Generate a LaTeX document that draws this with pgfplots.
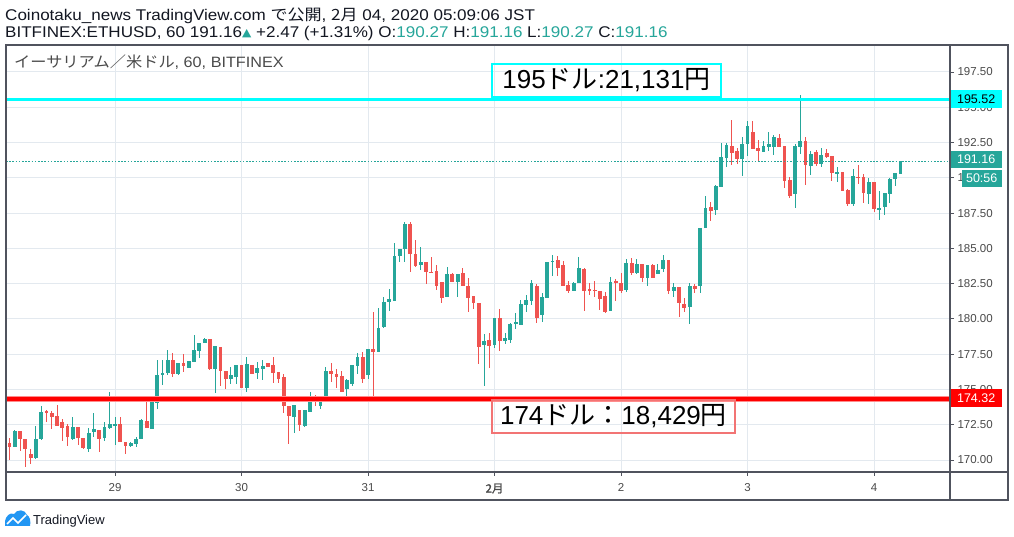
\documentclass[border=0pt]{standalone}
\usepackage{fontspec}
\setmainfont{Liberation Sans}
\newfontfamily\jp{Noto Sans CJK JP}
\newfontfamily\jpb[FakeBold=1.5]{Noto Sans CJK JP}
\newfontfamily\dv{DejaVu Sans}
\usepackage{pgfplots}
\pgfplotsset{compat=1.18}
\usepackage{pgfplotstable}
\definecolor{tvg}{HTML}{26A69A}
\definecolor{tvr}{HTML}{EF5350}
\definecolor{gridc}{HTML}{E3E9EF}
\definecolor{axc}{HTML}{50535E}
\definecolor{txt}{HTML}{4A4A4A}
\definecolor{cyn}{HTML}{00FFFF}
\definecolor{redl}{HTML}{FF0000}
\definecolor{redbox}{HTML}{F27474}
\definecolor{tvblue}{HTML}{2196F3}
\definecolor{ink}{HTML}{131722}

\pgfplotstableread{
n O H L C
1 171.18 171.54 170.00 170.95
2 170.95 172.10 170.90 172.06
3 172.06 172.06 170.66 171.47
4 171.47 171.47 169.53 170.76
5 170.43 170.78 169.72 170.17
6 170.17 172.39 170.10 171.49
7 171.49 173.83 171.45 173.40
8 173.45 173.55 172.72 173.36
9 173.30 173.45 172.22 173.07
10 173.12 173.90 172.40 172.44
11 172.70 172.93 171.37 172.30
12 172.40 172.55 171.02 171.60
13 171.49 173.03 171.40 172.32
14 172.32 172.32 171.04 171.54
15 171.54 171.54 170.78 170.88
16 170.81 172.29 170.59 171.92
17 172.00 173.33 171.60 172.20
18 172.13 172.13 170.57 171.49
19 171.58 172.70 171.35 172.32
20 172.30 174.82 172.20 172.53
21 172.40 173.03 171.06 172.53
22 172.53 173.03 171.30 171.30
23 171.30 171.30 170.43 171.02
24 171.02 171.30 170.90 171.18
25 171.12 171.60 170.95 171.47
26 171.49 172.90 171.49 172.84
27 172.77 174.30 172.30 172.30
28 172.22 174.49 172.20 174.09
29 174.07 177.09 173.64 176.03
30 176.03 177.09 175.32 176.19
31 176.14 177.80 176.02 177.09
32 177.09 177.59 175.91 176.07
33 176.10 176.90 176.02 176.90
34 176.90 177.49 176.26 176.69
35 176.55 177.02 176.55 177.02
36 176.97 178.86 176.97 177.80
37 177.75 178.27 177.25 178.27
38 178.32 178.62 178.32 178.58
39 178.58 178.58 176.38 176.45
40 176.45 178.08 174.73 178.08
41 177.99 177.99 175.27 176.33
42 176.33 176.33 175.03 175.72
43 175.72 176.62 175.36 176.02
44 175.91 176.73 175.36 176.73
45 176.73 176.73 175.08 175.13
46 175.13 177.28 174.84 176.78
47 176.73 176.73 176.07 176.07
48 176.19 176.97 175.72 176.50
49 176.45 177.09 175.67 176.69
50 176.85 176.85 176.62 176.62
51 176.73 177.28 175.48 176.14
52 176.26 176.26 175.44 175.72
53 175.86 176.10 173.31 173.83
54 173.83 173.83 171.14 173.14
55 173.07 173.90 171.89 173.90
56 173.55 173.55 172.06 172.48
57 172.41 173.55 172.32 173.55
58 173.43 174.84 173.38 174.49
59 174.49 174.61 173.85 174.20
60 173.85 174.49 173.62 174.20
61 174.20 176.62 174.20 176.31
62 176.31 176.85 175.55 176.12
63 176.10 176.45 175.13 175.91
64 175.95 176.31 174.84 174.84
65 175.03 175.74 174.49 175.67
66 175.39 176.73 175.27 176.73
67 176.69 177.61 176.07 177.30
68 177.30 177.68 175.44 175.74
69 176.02 177.87 175.74 177.87
70 177.87 180.51 174.49 177.68
71 177.68 180.75 177.68 179.36
72 179.43 181.58 179.38 181.17
73 181.17 182.12 180.56 181.39
74 181.27 185.38 181.27 184.48
75 184.48 184.96 184.01 184.96
76 184.96 186.85 184.06 186.73
77 186.73 186.89 183.30 184.60
78 184.60 185.59 183.66 183.77
79 183.82 185.12 183.47 184.06
80 184.06 184.06 182.47 183.30
81 183.33 184.41 183.28 183.30
82 183.40 183.82 182.05 182.36
83 182.64 182.64 181.10 181.51
84 181.58 183.70 181.58 183.16
85 183.16 183.23 182.59 182.59
86 182.59 183.16 181.58 183.16
87 183.23 183.63 182.33 182.36
88 182.36 182.90 180.51 181.45
89 181.62 181.62 180.70 181.11
90 181.15 181.15 176.81 178.03
91 178.15 178.91 175.27 178.44
92 178.51 178.98 176.55 178.11
93 178.15 180.04 177.92 180.04
94 180.04 180.70 177.75 178.46
95 178.46 178.98 178.22 178.67
96 178.51 179.69 178.32 179.64
97 179.64 180.44 179.29 179.78
98 179.57 181.34 179.57 181.06
99 180.99 181.69 180.51 181.34
100 181.29 182.76 180.99 182.52
101 182.36 182.47 179.69 180.09
102 180.28 181.81 179.76 181.53
103 181.51 184.01 181.51 184.01
104 184.01 184.53 183.07 184.13
105 184.18 184.46 183.07 183.63
106 183.82 184.13 182.36 182.36
107 182.41 182.71 181.86 182.00
108 182.00 182.64 182.00 182.57
109 182.52 184.41 182.52 183.59
110 183.54 183.59 180.59 182.00
111 182.10 182.57 181.69 182.00
112 182.05 182.69 181.58 181.98
113 181.98 181.98 180.63 181.41
114 181.62 181.93 180.44 180.51
115 180.58 182.99 180.58 182.59
116 182.71 182.81 181.29 182.52
117 182.57 183.23 181.86 182.00
118 182.05 184.25 181.93 183.94
119 183.94 184.29 183.11 183.28
120 183.28 184.25 183.18 183.87
121 183.87 183.87 182.64 182.92
122 182.92 183.82 182.36 183.82
123 183.82 183.89 182.88 182.88
124 183.16 183.89 183.16 183.47
125 183.54 184.53 183.35 184.18
126 184.18 184.18 181.77 182.00
127 182.00 182.52 181.53 182.24
128 182.24 182.29 180.11 181.10
129 181.06 181.46 180.51 180.80
130 180.87 182.52 179.62 182.33
131 182.33 182.47 181.86 182.12
132 182.33 186.47 181.86 186.47
133 186.47 188.71 186.47 187.84
134 187.91 188.31 186.94 187.67
135 187.72 189.49 187.37 189.42
136 189.33 192.49 189.33 191.45
137 191.38 192.44 190.74 192.33
138 192.26 194.10 190.91 191.78
139 191.90 192.09 190.96 191.36
140 191.36 192.87 190.15 192.40
141 192.37 194.05 191.55 193.67
142 193.22 194.03 192.02 192.02
143 192.09 192.68 191.22 191.92
144 191.85 192.61 191.85 192.26
145 192.21 193.22 191.92 192.40
146 192.21 193.04 191.62 192.87
147 192.80 193.10 192.21 192.21
148 192.26 192.26 189.30 189.80
149 189.85 190.08 188.55 188.71
150 188.85 192.37 187.89 192.26
151 192.21 195.87 191.69 192.61
152 192.61 192.92 189.49 190.91
153 190.86 191.92 190.20 191.69
154 191.85 191.97 190.86 190.98
155 190.98 192.09 190.79 191.62
156 191.74 192.02 191.38 191.50
157 191.55 191.55 189.78 190.37
158 190.27 190.74 189.73 190.39
159 190.39 190.39 189.07 189.07
160 189.14 189.19 188.03 188.15
161 188.15 190.60 188.03 190.13
162 190.08 190.91 189.56 190.03
163 190.03 190.25 188.24 188.95
164 188.85 189.96 188.15 189.68
165 189.68 189.68 187.60 187.79
166 187.72 189.09 187.00 187.84
167 187.96 188.95 187.37 188.95
168 188.85 189.99 188.19 189.92
169 189.92 190.32 189.45 190.32
170 190.27 191.16 190.27 191.16
}\candles

\begin{document}
\begin{tikzpicture}[x=1pt,y=1pt]
\path[use as bounding box] (0,0) rectangle (1014,537);
\fill[white] (0,0) rectangle (1014,537);

% header
\node[anchor=base west, inner sep=0pt, text=ink] at (5,516)
  {\scalebox{1.1}[1]{\fontsize{15.5}{18}\selectfont Coinotaku\_news TradingView.com {\jp で公開}, {\jp 2月} 04, 2020 05:09:06 JST}};
\node[anchor=base west, inner sep=0pt, text=ink] at (5,499.5)
  {\scalebox{1.1}[1]{\fontsize{15.5}{18}\selectfont BITFINEX:ETHUSD, 60 191.16\raisebox{1pt}{\dv\fontsize{11}{11}\selectfont\textcolor{tvg}{▲}} +2.47 (+1.31\%) O:\textcolor{tvg}{190.27} H:\textcolor{tvg}{191.16} L:\textcolor{tvg}{190.27} C:\textcolor{tvg}{191.16}}};

\begin{axis}[
  at={(6pt,65pt)}, anchor=south west,
  width=944pt, height=427pt, scale only axis,
  xmin=0.32, xmax=179.4, ymin=169.15, ymax=199.41,
  axis line style={draw=none},
  xtick={21,45,69,93,117,141,165},
  xticklabels={29,30,31,{\jpb 2月},2,3,4},
  ytick={170,172.5,175,177.5,180,182.5,185,187.5,190,192.5,195,197.5},
  xtick pos=bottom, ytick pos=right, yticklabel pos=right,
  tick align=outside, major tick length=4pt,
  tick style={draw=axc, line width=0.8pt},
  grid=major, grid style={draw=gridc, line width=0.9pt},
  tick label style={font=\fontsize{11.5}{12}\selectfont, text=txt},
  yticklabel style={/pgf/number format/.cd, fixed, fixed zerofill, precision=2, assume math mode=true},
  xticklabel style={yshift=-4pt},
  clip=true,
]
% wicks
\addplot[draw=none, mark=none, forget plot,
  restrict expr to domain={\thisrow{C}-\thisrow{O}}{0:100},
  error bars/.cd, y dir=both, y explicit, error mark=none,
  error bar style={draw=tvg, solid, line width=1pt}]
  table[x=n, y expr={(\thisrow{H}+\thisrow{L})/2}, y error expr={(\thisrow{H}-\thisrow{L})/2}] {\candles};
\addplot[draw=none, mark=none, forget plot,
  restrict expr to domain={\thisrow{C}-\thisrow{O}}{-100:-0.00001},
  error bars/.cd, y dir=both, y explicit, error mark=none,
  error bar style={draw=tvr, solid, line width=1pt}]
  table[x=n, y expr={(\thisrow{H}+\thisrow{L})/2}, y error expr={(\thisrow{H}-\thisrow{L})/2}] {\candles};
% bodies
\addplot[draw=none, mark=none, forget plot,
  restrict expr to domain={\thisrow{C}-\thisrow{O}}{0:100},
  error bars/.cd, y dir=both, y explicit, error mark=none,
  error bar style={draw=tvg, solid, line width=3.8pt}]
  table[x=n, y expr={(\thisrow{O}+\thisrow{C})/2}, y error expr={max(abs(\thisrow{C}-\thisrow{O})/2,0.035)}] {\candles};
\addplot[draw=none, mark=none, forget plot,
  restrict expr to domain={\thisrow{C}-\thisrow{O}}{-100:-0.00001},
  error bars/.cd, y dir=both, y explicit, error mark=none,
  error bar style={draw=tvr, solid, line width=3.8pt}]
  table[x=n, y expr={(\thisrow{O}+\thisrow{C})/2}, y error expr={max(abs(\thisrow{C}-\thisrow{O})/2,0.035)}] {\candles};
% horizontal levels
\addplot[cyn, line width=3pt, forget plot] coordinates {(0.32,195.52) (179.4,195.52)};
\addplot[redl!45, line width=6pt, forget plot] coordinates {(0.32,174.32) (179.4,174.32)};
\addplot[redl, line width=3.5pt, forget plot] coordinates {(0.32,174.32) (179.4,174.32)};
\addplot[tvg, line width=1pt, dash pattern=on 1.6pt off 1.6pt, forget plot] coordinates {(0.32,191.16) (179.4,191.16)};
\end{axis}

% frame
\draw[axc, line width=1.3pt] (6,37) rectangle (1008,492);
\draw[axc, line width=1.3pt] (950,37) -- (950,492);
\draw[axc, line width=1.3pt] (6,65) -- (1008,65);

% legend
\node[anchor=base west, inner sep=0pt, text=txt] at (14,469)
  {\scalebox{1.08}[1]{\fontsize{15}{18}\selectfont{\jp イーサリアム／米ドル}, 60, BITFINEX}};

% annotation boxes
\node[draw=cyn, line width=2pt, minimum width=229pt, minimum height=33pt, inner sep=0pt, text=black] at (606.5,456.5)
  {\fontsize{26}{30}\selectfont 195{\jp ドル}:21,131{\jp 円}};
\node[draw=redbox, line width=2pt, minimum width=243pt, minimum height=33pt, inner sep=0pt, text=black] at (613.5,120.5)
  {\fontsize{26}{30}\selectfont 174{\jp ドル：}18,429{\jp 円}};

% price labels on the right axis
\node[fill=cyn, minimum width=51pt, minimum height=18pt, inner sep=0pt, text=black, anchor=west] at (950.5,438)
  {\fontsize{12.5}{13}\selectfont 195.52};
\node[fill=tvg, minimum width=51pt, minimum height=17pt, inner sep=0pt, text=white, anchor=west] at (950.5,377.5)
  {\fontsize{12.5}{13}\selectfont 191.16};
\node[fill=tvg, minimum width=40pt, minimum height=17pt, inner sep=0pt, text=white, anchor=west] at (961.5,358.5)
  {\fontsize{12.5}{13}\selectfont 50:56};
\node[fill=redl, minimum width=51pt, minimum height=18pt, inner sep=0pt, text=white, anchor=west] at (950.5,139)
  {\fontsize{12.5}{13}\selectfont 174.32};

% TradingView logo
\fill[tvblue] (5,11) -- (5,16) .. controls (6,21) and (10,25) .. (14,23) .. controls (17,28) and (25,28) .. (27,22) .. controls (30,21) and (31,15) .. (30,11) -- cycle;
\draw[white, line width=1.6pt] (7,13) -- (13,19) -- (18,14) -- (26,22);
\node[anchor=base west, inner sep=0pt, text=ink] at (33,12)
  {\fontsize{13}{15}\selectfont TradingView};
\end{tikzpicture}
\end{document}
